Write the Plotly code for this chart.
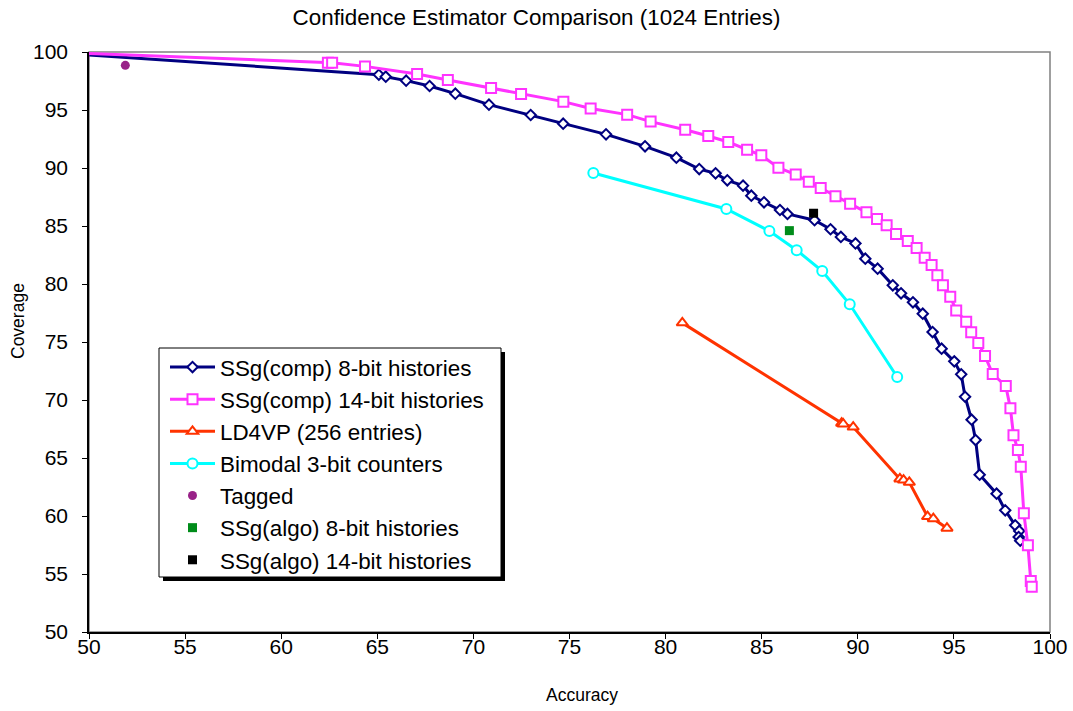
import plotly.graph_objects as go

# ---- data ----
comp8_acc = [49.7, 65.08, 65.44, 66.5, 67.72, 69.06, 70.81, 72.98, 74.67, 76.9, 78.93, 80.56, 81.75, 82.6,
             83.21, 84.03, 84.46, 85.12, 85.95, 86.34, 87.75, 88.58, 89.12, 89.88, 90.39, 91.03, 91.82, 92.25,
             92.87, 93.38, 93.89, 94.36, 95.02, 95.38, 95.58, 95.92, 96.13, 96.34, 97.22, 97.67, 98.19, 98.4,
             98.37, 98.45]
comp8_cov = [99.78, 98.04, 97.87, 97.53, 97.07, 96.41, 95.46, 94.57, 93.82, 92.9, 91.87, 90.89, 89.91, 89.54,
             88.94, 88.48, 87.61, 87.04, 86.38, 86.04, 85.5, 84.72, 84.06, 83.5, 82.18, 81.32, 79.89, 79.2,
             78.42, 77.44, 75.86, 74.42, 73.33, 72.21, 70.28, 68.3, 66.55, 63.56, 61.92, 60.49, 59.2, 58.71,
             58.19, 57.87]

comp14_acc = [49.7, 62.43, 62.65, 64.36, 67.07, 68.67, 70.92, 72.48, 74.68, 76.1, 78.0, 79.22, 81.02, 82.22,
              83.26, 84.24, 84.98, 85.87, 86.77, 87.45, 88.07, 88.84, 89.6, 90.45, 91.0, 91.5, 91.99, 92.6,
              93.06, 93.48, 93.84, 94.14, 94.43, 94.81, 95.12, 95.64, 95.9, 96.27, 96.62, 97.02, 97.7, 97.94,
              98.1, 98.33, 98.48, 98.64, 98.85, 99.0, 99.05]
comp14_cov = [99.88, 99.08, 99.08, 98.76, 98.1, 97.59, 96.9, 96.38, 95.72, 95.13, 94.6, 94.0, 93.3, 92.76,
              92.24, 91.58, 91.09, 90.02, 89.44, 88.82, 88.28, 87.56, 86.91, 86.18, 85.6, 85.06, 84.31, 83.71,
              83.1, 82.27, 81.64, 80.75, 79.89, 78.91, 77.72, 76.74, 75.85, 74.91, 73.79, 72.24, 71.21, 69.28,
              66.96, 65.69, 64.25, 60.23, 57.47, 54.4, 53.91]

ld4vp_acc = [80.87, 89.16, 89.24, 89.76, 92.19, 92.38, 92.68, 93.63, 93.93, 94.64]
ld4vp_cov = [76.65, 68.0, 67.93, 67.67, 63.2, 63.1, 62.9, 59.95, 59.77, 58.95]

bimodal_acc = [76.24, 83.16, 85.4, 86.82, 88.15, 89.58, 92.05]
bimodal_cov = [89.57, 86.47, 84.57, 82.91, 81.12, 78.25, 71.98]

tagged_acc = [51.89]
tagged_cov = [98.85]

algo8_acc = [86.44]
algo8_cov = [84.6]

algo14_acc = [87.7]
algo14_cov = [86.1]

x_ticks = [50, 55, 60, 65, 70, 75, 80, 85, 90, 95, 100]
y_ticks = [50, 55, 60, 65, 70, 75, 80, 85, 90, 95, 100]

FONT = "Arial, Liberation Sans, sans-serif"

# plot-area geometry in pixels
L, R, T, B = 89, 1050, 52, 632
W, H = R - L, B - T


def px(xp):
    return (xp - L) / W


def py(yp):
    return (B - yp) / H


fig = go.Figure()
fig.add_trace(go.Scatter(x=comp8_acc, y=comp8_cov, mode="lines+markers", name="SSg(comp) 8-bit histories",
                         line=dict(color="#000080", width=3),
                         marker=dict(symbol="diamond", size=8, color="white",
                                     line=dict(color="#000080", width=2))))
fig.add_trace(go.Scatter(x=comp14_acc, y=comp14_cov, mode="lines+markers", name="SSg(comp) 14-bit histories",
                         line=dict(color="#FF33FF", width=3),
                         marker=dict(symbol="square", size=10, color="white",
                                     line=dict(color="#FF33FF", width=2))))
fig.add_trace(go.Scatter(x=ld4vp_acc, y=ld4vp_cov, mode="lines+markers", name="LD4VP (256 entries)",
                         line=dict(color="#FF3300", width=3),
                         marker=dict(symbol="triangle-up", size=10, color="white",
                                     line=dict(color="#FF3300", width=2))))
fig.add_trace(go.Scatter(x=bimodal_acc, y=bimodal_cov, mode="lines+markers", name="Bimodal 3-bit counters",
                         line=dict(color="#00FFFF", width=3),
                         marker=dict(symbol="circle", size=10, color="white",
                                     line=dict(color="#00FFFF", width=2))))
fig.add_trace(go.Scatter(x=tagged_acc, y=tagged_cov, mode="markers", name="Tagged",
                         marker=dict(symbol="circle", size=9, color="#992288")))
fig.add_trace(go.Scatter(x=algo8_acc, y=algo8_cov, mode="markers", name="SSg(algo) 8-bit histories",
                         marker=dict(symbol="square", size=9, color="#008C1A")))
fig.add_trace(go.Scatter(x=algo14_acc, y=algo14_cov, mode="markers", name="SSg(algo) 14-bit histories",
                         marker=dict(symbol="square", size=9, color="black")))

# plot border (top/right grey)
fig.add_shape(type="rect", xref="paper", yref="paper", x0=0, y0=0, x1=1, y1=1,
              line=dict(color="#808080", width=1.5), layer="below")
# legend shadow and box
fig.add_shape(type="rect", xref="paper", yref="paper",
              x0=px(163), x1=px(505), y0=py(581), y1=py(352),
              line=dict(width=0), fillcolor="black", layer="above")
fig.add_shape(type="rect", xref="paper", yref="paper",
              x0=px(159), x1=px(501), y0=py(577), y1=py(348),
              line=dict(width=1, color="black"), fillcolor="white", layer="above")

# axis titles (placed as in the reference)
fig.add_annotation(text="Accuracy", xref="paper", yref="paper", x=px(582), y=py(695),
                   xanchor="center", yanchor="middle", showarrow=False,
                   font=dict(size=17.5, family=FONT, color="black"))
fig.add_annotation(text="Coverage", xref="paper", yref="paper", x=px(18), y=py(321),
                   xanchor="center", yanchor="middle", showarrow=False, textangle=-90,
                   font=dict(size=17.5, family=FONT, color="black"))

fig.update_layout(
    width=1073, height=711,
    margin=dict(l=L, r=1073 - R, t=T, b=711 - B, autoexpand=False),
    paper_bgcolor="white", plot_bgcolor="white",
    font=dict(family=FONT, size=21, color="black"),
    title=dict(text="Confidence Estimator Comparison (1024 Entries)", x=0.5, xanchor="center",
               yref="container", y=1 - 17 / 711, yanchor="middle", font=dict(size=22.4, family=FONT)),
    xaxis=dict(range=[50, 100], tickvals=x_ticks, ticks="outside", ticklen=5, tickcolor="black",
               showline=True, linecolor="black", linewidth=1.5, showgrid=False, zeroline=False,
               automargin=False, ticklabelstandoff=-10),
    yaxis=dict(range=[50, 100], tickvals=y_ticks, ticks="outside", ticklen=5, tickcolor="black",
               showline=True, linecolor="black", linewidth=1.5, showgrid=False, zeroline=False,
               automargin=False, ticklabelstandoff=10),
    xaxis2=dict(range=[50, 100], tickvals=x_ticks, ticks="inside", ticklen=5, tickcolor="black",
                overlaying="x", anchor="y", side="bottom", showticklabels=False, showline=False,
                showgrid=False, zeroline=False, automargin=False),
    yaxis2=dict(range=[50, 100], tickvals=y_ticks, ticks="inside", ticklen=5, tickcolor="black",
                overlaying="y", anchor="x", side="left", showticklabels=False, showline=False,
                showgrid=False, zeroline=False, automargin=False),
    legend=dict(x=px(165), y=py(346), xanchor="left", yanchor="top",
                bgcolor="rgba(0,0,0,0)", borderwidth=0,
                font=dict(size=22.4, family=FONT), itemwidth=45, tracegroupgap=0),
    showlegend=True,
)

fig.write_html("out.html", config={"displayModeBar": False},
               post_script="document.body.style.margin='0';")
